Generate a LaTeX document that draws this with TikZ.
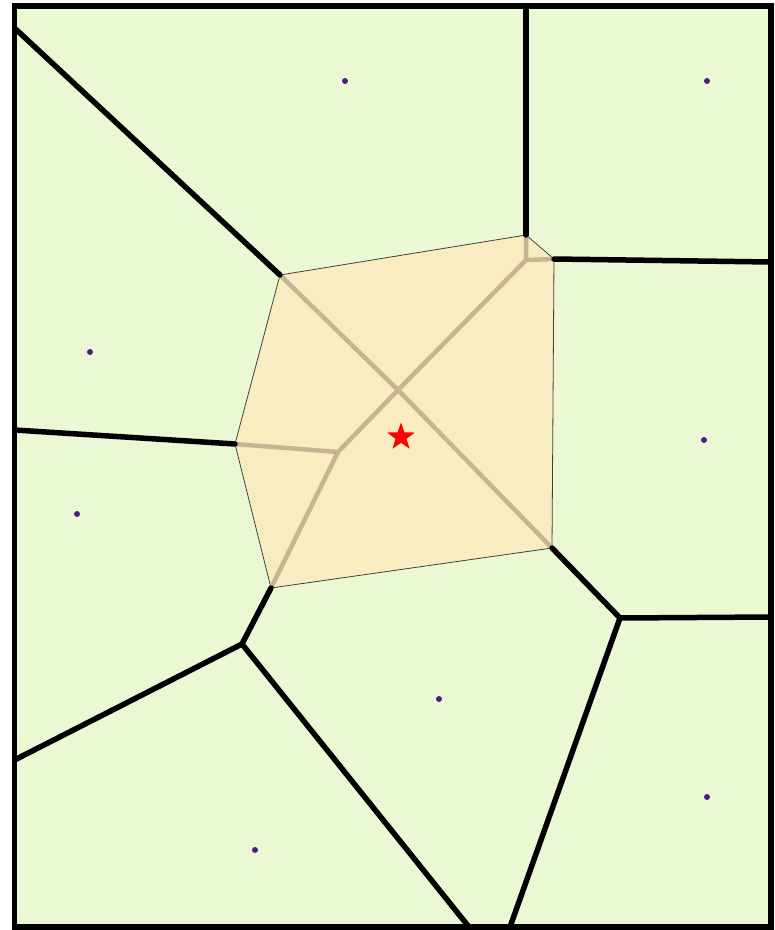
\documentclass[tikz,border=0pt]{standalone}
\usetikzlibrary{shapes.geometric}
\definecolor{bggreen}{RGB}{235,248,212}
\definecolor{cellorange}{RGB}{248,236,192}
\definecolor{tanline}{RGB}{198,180,146}
\definecolor{dotpurple}{RGB}{75,30,130}
\tikzset{
  edge/.style={line width=5.5pt, black, line cap=round, line join=round},
  inner/.style={line width=4.5pt, tanline, line cap=round, line join=round},
  site/.style={circle, fill=dotpurple, inner sep=0pt, minimum size=6pt},
}
\begin{document}
\begin{tikzpicture}[x=1pt,y=-1pt]
\useasboundingbox (0,0) rectangle (775,930);
% frame corners
\coordinate (TL) at (14.5,6);
\coordinate (BR) at (771,927);
\fill[bggreen] (TL) rectangle (BR);
% orange cell vertices
\coordinate (P1) at (280,275);
\coordinate (P2) at (526,235);
\coordinate (P3) at (554,259);
\coordinate (P4) at (552,548);
\coordinate (P5) at (271,588);
\coordinate (P6) at (235,444);
\filldraw[fill=cellorange, draw=black!75, line width=0.8pt] (P1) -- (P2) -- (P3) -- (P4) -- (P5) -- (P6) -- cycle;
% inner tan lines
\coordinate (Q1) at (398,390);
\coordinate (Q2) at (338,452);
\coordinate (Q3) at (526,260);
\draw[inner] (P1) -- (Q1) -- (P4);
\draw[inner] (Q3) -- (Q1) -- (Q2) -- (P6);
\draw[inner] (Q2) -- (P5);
\draw[inner] (P2) -- (Q3) -- (P3);
% black Voronoi edges
\coordinate (L1) at (14.5,28);
\coordinate (T1) at (526,6);
\coordinate (R1) at (771,262);
\coordinate (J1) at (620,618);
\coordinate (R2) at (771,617);
\coordinate (B1) at (510,927);
\coordinate (L2) at (14.5,430);
\coordinate (J2) at (242,644);
\coordinate (L3) at (14.5,760);
\coordinate (B2) at (469,927);
\draw[edge] (L1) -- (P1);
\draw[edge] (T1) -- (P2);
\draw[edge] (P3) -- (R1);
\draw[edge] (P4) -- (J1) -- (R2);
\draw[edge] (J1) -- (B1);
\draw[edge] (L2) -- (P6);
\draw[edge] (P5) -- (J2) -- (L3);
\draw[edge] (J2) -- (B2);
% frame
\draw[line width=5.5pt, black] (TL) rectangle (BR);
% sites
\node[site] (s1) at (345,81) {};
\node[site] (s2) at (707,81) {};
\node[site] (s3) at (90,352) {};
\node[site] (s4) at (704,440) {};
\node[site] (s5) at (77,514) {};
\node[site] (s6) at (439,699) {};
\node[site] (s7) at (707,797) {};
\node[site] (s8) at (255,850) {};
% star
\node[star, star points=5, star point ratio=2.5, fill=red, inner sep=0pt, minimum size=29pt] (q) at (401,437) {};
\end{tikzpicture}
\end{document}
